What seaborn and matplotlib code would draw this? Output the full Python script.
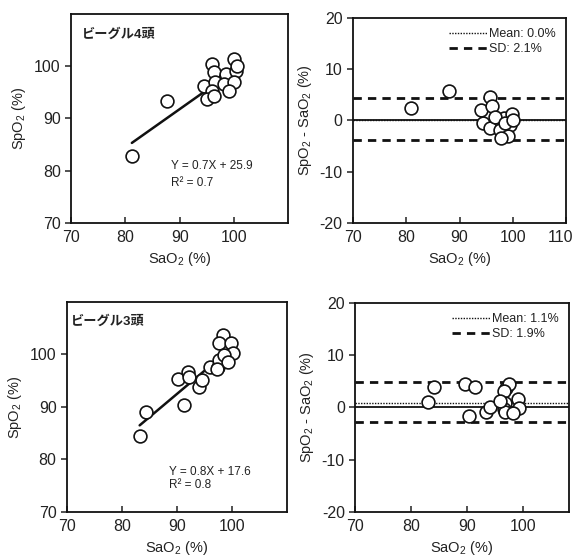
import numpy as np
import pandas as pd
import matplotlib
matplotlib.use('Agg')
import matplotlib.pyplot as plt
import matplotlib.transforms as mtransforms
import seaborn as sns

# --- data ---
# top row: 4 beagles
sa_4 = [81.2, 87.7, 96.0, 100.0, 96.3, 98.5, 100.3, 94.5, 96.6, 98.2, 100.0, 96.0, 95.1, 96.3, 99.1, 100.6]
sp_4 = [82.8, 93.3, 100.4, 101.3, 98.8, 98.5, 99.1, 96.2, 96.9, 96.5, 96.9, 95.3, 93.7, 94.3, 95.3, 100.0]
ba_x_4 = [80.9, 88.0, 95.8, 94.1, 96.0, 94.4, 95.8, 98.3, 99.8, 99.5, 97.6, 99.1, 97.8, 96.6, 98.5, 100.0]
ba_y_4 = [2.4, 5.8, 4.6, 2.0, 2.9, -0.6, -1.4, 0.4, 1.2, -0.9, -1.9, -3.0, -3.4, 0.7, -0.5, 0.0]
eq_4 = ['Y = 0.7X + 25.9', 'R² = 0.7']
mean_4, sd_lines_4 = 0.0, [4.4, -3.9]
legend_4 = ['Mean: 0.0%', 'SD: 2.1%']

# bottom row: 3 beagles
sa_3 = [83.2, 84.4, 91.3, 90.1, 91.9, 92.2, 94.0, 94.6, 95.9, 97.4, 97.7, 98.3, 97.7, 99.8, 100.1, 98.6, 99.2, 97.2]
sp_3 = [84.5, 89.0, 90.4, 95.3, 96.6, 95.7, 93.8, 95.2, 97.5, 97.6, 99.0, 103.6, 102.1, 102.1, 100.3, 99.8, 98.6, 97.2]
ba_x_3 = [83.0, 84.0, 89.6, 91.4, 90.4, 93.4, 94.1, 97.0, 97.4, 96.5, 96.8, 96.5, 96.8, 99.0, 99.3, 98.2, 95.9]
ba_y_3 = [1.0, 4.0, 4.5, 4.0, -1.7, -0.8, 0.0, 3.8, 4.5, 3.2, 0.8, -0.4, -0.9, 1.6, -0.2, -1.0, 1.2]
eq_3 = ['Y = 0.8X + 17.6', 'R² = 0.8']
mean_3, sd_lines_3 = 0.8, [4.8, -2.8]
legend_3 = ['Mean: 1.1%', 'SD: 1.9%']

titles = ['ビーグル4頭', 'ビーグル3頭']

sns.set_theme(style="ticks")
plt.rcParams['font.family'] = ['Liberation Sans', 'Noto Sans CJK JP']
plt.rcParams['mathtext.fontset'] = 'custom'
plt.rcParams['mathtext.rm'] = 'Liberation Sans'
plt.rcParams['mathtext.it'] = 'Liberation Sans:italic'
plt.rcParams['axes.unicode_minus'] = False
plt.rcParams['text.color'] = '#222222'
plt.rcParams['axes.labelcolor'] = '#222222'
plt.rcParams['xtick.color'] = '#222222'
plt.rcParams['ytick.color'] = '#222222'

fig = plt.figure(figsize=(5.73, 5.6), dpi=100)
ax_tl = fig.add_axes([0.124, 0.602, 0.379, 0.373])
ax_tr = fig.add_axes([0.616, 0.602, 0.372, 0.366])
ax_bl = fig.add_axes([0.117, 0.086, 0.384, 0.375])
ax_br = fig.add_axes([0.620, 0.086, 0.373, 0.373])

dot_kws = dict(color='white', edgecolor='#111111', linewidth=1.2, s=85, zorder=3)


def corr_panel(ax, sa, sp, title, eq, tx, ty, ey):
    sns.regplot(x=sa, y=sp, ax=ax, scatter=False, ci=None, truncate=True,
                line_kws=dict(color='#111111', lw=1.8, zorder=2))
    sns.scatterplot(x=sa, y=sp, ax=ax, **dot_kws)
    ax.set_xlim(70, 110)
    ax.set_ylim(70, 110)
    ax.set_xticks([70, 80, 90, 100])
    ax.set_yticks([70, 80, 90, 100])
    ax.set_xlabel('SaO$_2$ (%)', fontsize=10.5)
    ax.set_ylabel('SpO$_2$ (%)', fontsize=10.5)
    ax.text(tx, ty, title, transform=ax.transAxes, fontsize=9.5, fontweight='bold',
            ha='left', va='center')
    ax.text(0.462, ey[0], eq[0], transform=ax.transAxes, fontsize=8.5, ha='left', va='center')
    ax.text(0.462, ey[1], eq[1], transform=ax.transAxes, fontsize=8.5, ha='left', va='center')


def ba_panel(ax, bx, by, mean, sd_lines, labels, xmax, xticks):
    ax.axhline(0, color='#111111', lw=1.3, zorder=1)
    l1 = ax.axhline(mean, color='#111111', lw=1.0, ls=(0, (1, 1)), zorder=1)
    l2 = None
    for v in sd_lines:
        l2 = ax.axhline(v, color='#111111', lw=2.0, ls=(0, (3, 2.2)), zorder=1)
    sns.scatterplot(x=bx, y=by, ax=ax, **dot_kws)
    ax.set_xlim(70, xmax)
    ax.set_ylim(-20, 20)
    ax.set_xticks(xticks)
    ax.set_yticks([-20, -10, 0, 10, 20])
    ax.set_xlabel('SaO$_2$ (%)', fontsize=10.5)
    ax.set_ylabel('SpO$_2$ - SaO$_2$ (%)', fontsize=10.5)
    ax.legend([l1, l2], labels, loc='upper right', frameon=False, fontsize=9,
              handlelength=3.0, handletextpad=0.2, labelspacing=0.25,
              borderaxespad=0.4)


corr_panel(ax_tl, sa_4, sp_4, titles[0], eq_4, 0.05, 0.90, [0.27, 0.193])
corr_panel(ax_bl, sa_3, sp_3, titles[1], eq_3, 0.02, 0.906, [0.19, 0.128])
ba_panel(ax_tr, ba_x_4, ba_y_4, mean_4, sd_lines_4, legend_4, 110, [70, 80, 90, 100, 110])
ba_panel(ax_br, ba_x_3, ba_y_3, mean_3, sd_lines_3, legend_3, 108.2, [70, 80, 90, 100])

for ax in [ax_tl, ax_tr, ax_bl, ax_br]:
    for sp in ax.spines.values():
        sp.set_visible(True)
        sp.set_linewidth(1.3)
        sp.set_color('#111111')
    ax.tick_params(axis='both', labelsize=11.5, length=4, width=1.1)
    ax.tick_params(axis='x', direction='in', pad=5)

# keep the last "110" label inside the figure
fig.canvas.draw()
last = ax_tr.get_xticklabels()[-1]
last.set_transform(last.get_transform() + mtransforms.ScaledTranslation(-6 / 100, 0, fig.dpi_scale_trans))

fig.savefig('out.png', dpi=100, facecolor='white')
